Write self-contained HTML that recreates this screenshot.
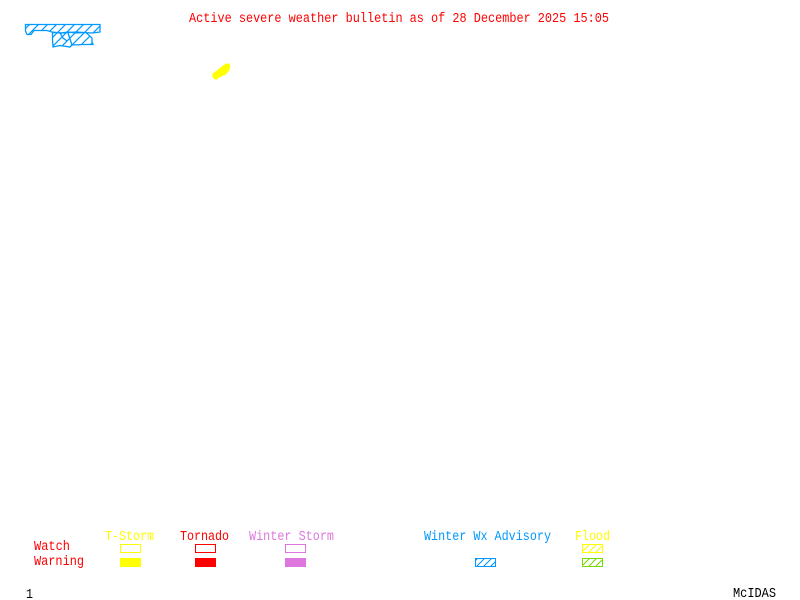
<!DOCTYPE html>
<html><head><meta charset="utf-8"><style>
html,body{margin:0;padding:0;background:#fff}
svg{display:block}
text{font-family:"Liberation Mono",monospace;font-size:13.5px}
</style></head><body>
<svg width="800" height="600" viewBox="0 0 800 600" xmlns="http://www.w3.org/2000/svg">
<defs>
<pattern id="hb" width="7" height="7" patternUnits="userSpaceOnUse"><path d="M-1 8L8 -1M-1 1L1 -1M6 8L8 6" stroke="#0099ff" stroke-width="1" shape-rendering="crispEdges"/></pattern>
<pattern id="hb2" width="9" height="9" patternUnits="userSpaceOnUse"><path d="M-1 10L10 -1M-1 1L1 -1M8 10L10 8" stroke="#0099ff" stroke-width="1.2"/></pattern>
<pattern id="hy" width="7" height="7" patternUnits="userSpaceOnUse"><path d="M-1 8L8 -1M-1 1L1 -1M6 8L8 6" stroke="#ffff00" stroke-width="1" shape-rendering="crispEdges"/></pattern>
<pattern id="hg" width="7" height="7" patternUnits="userSpaceOnUse"><path d="M-1 8L8 -1M-1 1L1 -1M6 8L8 6" stroke="#77dd00" stroke-width="1" shape-rendering="crispEdges"/></pattern>
</defs>
<text x="189" y="22" fill="#ff0000" textLength="420" lengthAdjust="spacingAndGlyphs">Active severe weather bulletin as of 28 December 2025 15:05</text>
<g stroke="#0099ff" stroke-width="1.3" fill="url(#hb2)">
<path d="M25.5 24.5H100V32L92 33L76 32L62 33L52 32L47 30.5L34 30.5L31 34.5L27 34.5L25.5 31Z"/>
<path d="M52.5 32.5L61 33L68 32L76 33L86 32.5L92 38V42L93 44.5L84 44.5L72 45L70 47L60 45.5L53 47L52.5 40Z"/>
<path d="M60 33L63 38L67 41M68 33L72 45" fill="none"/>
</g>
<path d="M212 74L216 71L221 67L226 63.5L229 63.5L230.5 66L229 71L225 75L220 77L216 80L213 78Z" fill="#ffff00"/>
<text x="105" y="540" fill="#ffff00" textLength="49" lengthAdjust="spacingAndGlyphs">T-Storm</text>
<text x="180" y="540" fill="#ff0000" textLength="49" lengthAdjust="spacingAndGlyphs">Tornado</text>
<text x="249" y="540" fill="#dd77dd" textLength="85" lengthAdjust="spacingAndGlyphs">Winter Storm</text>
<text x="424" y="540" fill="#0099ff" textLength="127" lengthAdjust="spacingAndGlyphs">Winter Wx Advisory</text>
<text x="575" y="540" fill="#ffff00" textLength="35" lengthAdjust="spacingAndGlyphs">Flood</text>
<text x="34" y="550" fill="#ff0000" textLength="36" lengthAdjust="spacingAndGlyphs">Watch</text>
<text x="34" y="565" fill="#ff0000" textLength="50" lengthAdjust="spacingAndGlyphs">Warning</text>
<g shape-rendering="crispEdges" stroke-width="1">
<rect x="120.5" y="544.5" width="20" height="8" fill="#fff" stroke="#ffff00"/>
<rect x="120" y="558" width="21" height="9" fill="#ffff00"/>
<rect x="195.5" y="544.5" width="20" height="8" fill="#fff" stroke="#ff0000"/>
<rect x="195" y="558" width="21" height="9" fill="#ff0000"/>
<rect x="285.5" y="544.5" width="20" height="8" fill="#fff" stroke="#dd77dd"/>
<rect x="285" y="558" width="21" height="9" fill="#dd77dd"/>
<rect x="475.5" y="558.5" width="20" height="8" fill="url(#hb)" stroke="#0099ff"/>
<rect x="582.5" y="544.5" width="20" height="8" fill="url(#hy)" stroke="#ffff00"/>
<rect x="582.5" y="558.5" width="20" height="8" fill="url(#hg)" stroke="#77dd00"/>
</g>
<text x="26" y="598" fill="#000" textLength="7" lengthAdjust="spacingAndGlyphs">1</text>
<text x="733" y="597" fill="#000" textLength="43" lengthAdjust="spacingAndGlyphs">McIDAS</text>
</svg>
</body></html>
